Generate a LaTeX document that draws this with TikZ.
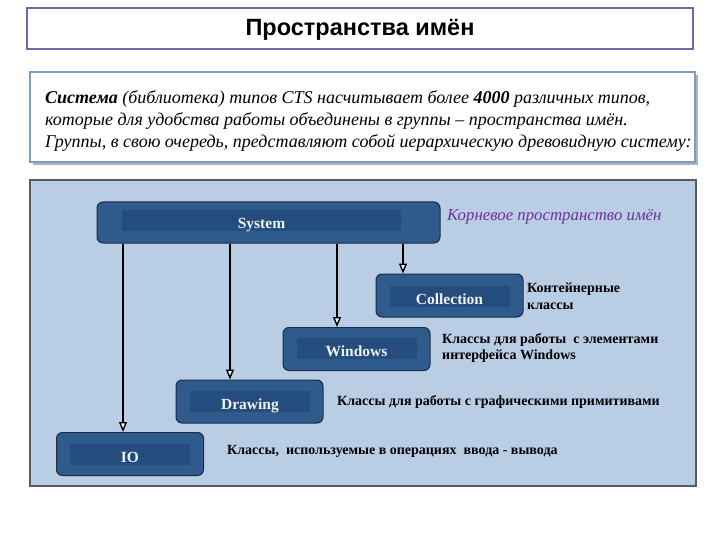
\documentclass[tikz,border=0pt]{standalone}
\usepackage{fontspec}
\setmainfont{Liberation Serif}
\newfontfamily\titlefont{Liberation Sans}
\usetikzlibrary{arrows.meta}
\definecolor{titleline}{HTML}{7F63A8}
\definecolor{textline}{HTML}{7E9CC6}
\definecolor{panelfill}{HTML}{B9CDE4}
\definecolor{panelline}{HTML}{5A5A5A}
\definecolor{boxfill}{HTML}{2F5A8C}
\definecolor{boxinner}{HTML}{244C7D}
\definecolor{boxline}{HTML}{1C2C48}
\definecolor{rootcol}{HTML}{7030A0}
\definecolor{boxtext}{HTML}{EEF2F8}
\tikzset{
  outerbox/.style={draw=boxline, fill=boxfill, rounded corners=6pt, line width=1pt,
    minimum width=147pt, minimum height=43pt, inner sep=0pt},
  innerbox/.style={fill=boxinner, minimum width=120pt, minimum height=21pt, inner sep=0pt},
  boxtxt/.style={inner sep=0pt, text=boxtext, text depth=0pt, font=\bfseries\fontsize{15.5}{17}\selectfont},
  lbl/.style={anchor=west, align=left, inner sep=0pt, font=\bfseries\fontsize{14}{16.5}\selectfont},
  arr/.style={line width=2pt, -{Triangle[length=10pt,width=8pt,fill=white,line width=1.4pt]}}
}
\begin{document}
\begin{tikzpicture}[x=1pt,y=-1pt]
\useasboundingbox (0,0) rectangle (720,540);
% title
\node[draw=titleline, line width=2pt, minimum width=666pt, minimum height=41pt, inner sep=0pt] (title) at (360,28.5) {};
\node[inner sep=0pt, font=\titlefont\bfseries\fontsize{23.5}{26}\selectfont] (titletxt) at (360,30) {Пространства имён};
% text box
\fill[gray!60] (33,75) rectangle (698,165);
\node[draw=textline, fill=white, line width=1.5pt, minimum width=665pt, minimum height=90pt, inner sep=0pt] (tbox) at (362.5,117) {};
\node[anchor=west, align=left, inner sep=0pt, font=\itshape\fontsize{18}{22}\selectfont] (ttext) at (45,121)
{\textbf{Система} (библиотека) типов CTS насчитывает более \textbf{4000} различных типов,\\
которые для удобства работы объединены в группы – пространства имён.\\
Группы, в свою очередь, представляют собой иерархическую древовидную систему:};
% panel
\node[draw=panelline, fill=panelfill, line width=1.5pt, minimum width=666pt, minimum height=306pt, inner sep=0pt] (panel) at (363,333) {};
% boxes
\node[outerbox, minimum width=343pt, minimum height=41pt] (sys) at (268.5,222.5) {};
\node[innerbox, minimum width=279pt] (sysin) at (261.5,220.5) {};
\node[boxtxt] (syst) at (261.5,223) {System};
\node[outerbox] (col) at (449.5,295.5) {};
\node[innerbox] (colin) at (449.5,296) {};
\node[boxtxt] (colt) at (449.5,299) {Collection};
\node[outerbox] (win) at (356.5,349) {};
\node[innerbox] (winin) at (356.5,348.5) {};
\node[boxtxt] (wint) at (356.5,351.5) {Windows};
\node[outerbox] (draw) at (249.5,401.5) {};
\node[innerbox] (drawin) at (249.5,401.5) {};
\node[boxtxt] (drawt) at (250,404.5) {Drawing};
\node[outerbox] (io) at (130,454) {};
\node[innerbox] (ioin) at (130,454) {};
\node[boxtxt] (iot) at (130,457) {IO};
% arrows
\coordinate (xio) at (123,0);
\coordinate (xdr) at (230,0);
\coordinate (xwi) at (337,0);
\coordinate (xco) at (403,0);
\draw[arr] (sys.south -| xio) -- (io.north -| xio);
\draw[arr] (sys.south -| xdr) -- (draw.north -| xdr);
\draw[arr] (sys.south -| xwi) -- (win.north -| xwi);
\draw[arr] (sys.south -| xco) -- (col.north -| xco);
% labels
\node[anchor=west, inner sep=0pt, text=rootcol, font=\itshape\fontsize{16.8}{19}\selectfont] (root) at (447,217) {Корневое пространство имён};
\node[lbl] (lcol) at (527,296) {Контейнерные\\классы};
\node[lbl] (lwin) at (442,348) {Классы для работы \ с элементами\\интерфейса Windows};
\node[lbl] (ldr) at (337,402) {Классы для работы с графическими примитивами};
\node[lbl] (lio) at (227,451) {Классы, \ используемые в операциях \ ввода - вывода};
\end{tikzpicture}
\end{document}
